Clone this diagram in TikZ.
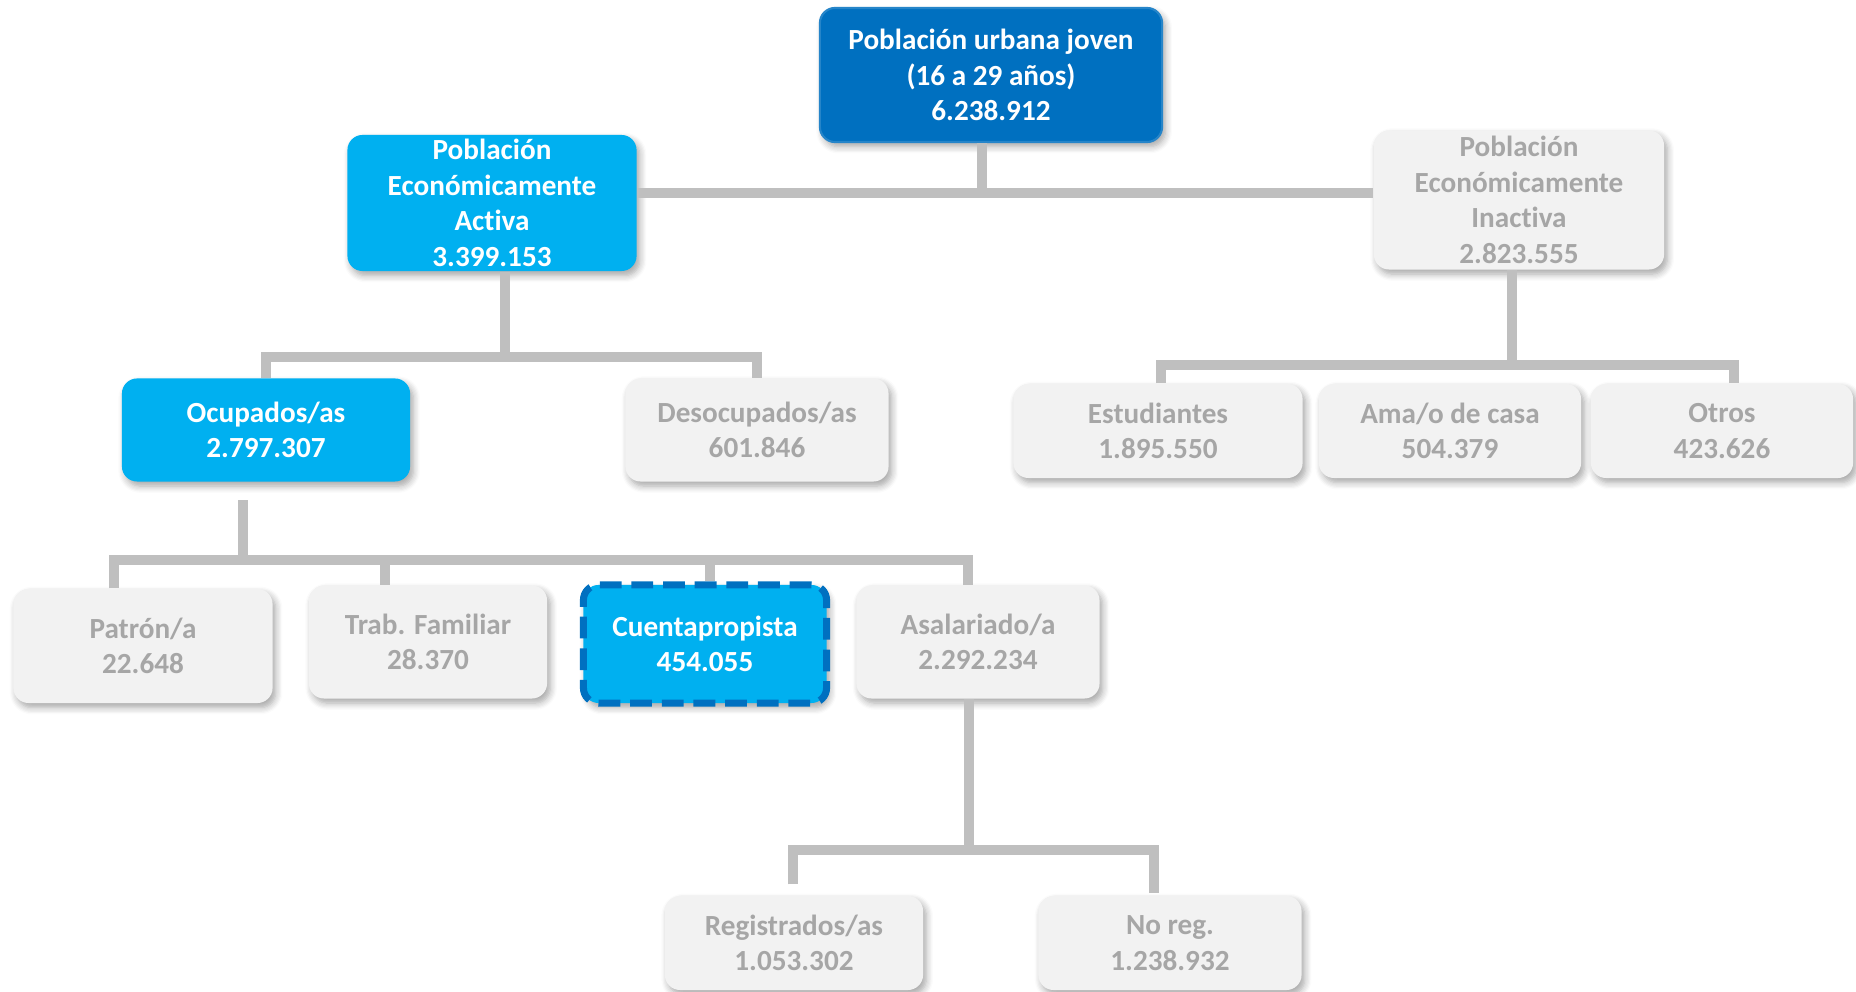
\documentclass[tikz,border=0pt]{standalone}
\usepackage{fontspec}
\setmainfont[Ligatures={NoCommon,NoContextual}, RawFeature={-calt;-dlig}]{Carlito}
\usetikzlibrary{shadows.blur}
\definecolor{azul}{HTML}{0070C0}
\definecolor{celeste}{HTML}{00B0F0}
\definecolor{gris}{HTML}{F2F2F2}
\definecolor{grisletra}{HTML}{A6A6A6}
\definecolor{linea}{HTML}{BFBFBF}
\begin{document}
\begin{tikzpicture}[x=0.01cm, y=-0.01cm,
    every node/.style = {align=center, inner sep=0pt,
      font=\fontsize{8.3}{10.1}\selectfont\bfseries},
    caja/.style = {shape=rectangle, rounded corners=4.3pt,
      blur shadow={shadow xshift=0.9pt, shadow yshift=-1.3pt,
        shadow opacity=35, shadow blur steps=6}},
    raiz/.style = {caja, fill=azul, draw=azul!85!white, line width=0.6pt, text=white},
    activo/.style = {caja, fill=celeste, text=white},
    inactivo/.style = {caja, fill=gris, text=grisletra},
    conn/.style = {draw=linea, line width=2.6pt}]
    \useasboundingbox (0,0) rectangle (1856,992);
    % nivel 0 y 1
    \node[raiz, minimum width=3.42cm, minimum height=1.34cm] (P) at (991,75)
        {Población urbana joven\\(16 a 29 años)\\6.238.912};
    \node[activo, minimum width=2.89cm, minimum height=1.36cm] (PEA) at (492,203)
        {Población\\Económicamente\\Act\kern0pt iva\\3.399.153};
    \node[inactivo, minimum width=2.90cm, minimum height=1.39cm] (PEI) at (1519,200)
        {Población\\Económicamente\\Inact\kern0pt iva\\2.823.555};
    % nivel 2
    \node[activo, minimum width=2.88cm, minimum height=1.03cm] (OC) at (266,430)
        {Ocupados/as\\2.797.307};
    \node[inactivo, minimum width=2.63cm, minimum height=1.03cm] (DES) at (757,430)
        {Desocupados/as\\601.846};
    \node[inactivo, minimum width=2.89cm, minimum height=0.94cm] (EST) at (1158,431)
        {Estudiantes\\1.895.550};
    \node[inactivo, minimum width=2.62cm, minimum height=0.94cm] (AMA) at (1450,431)
        {Ama/o de casa\\504.379};
    \node[inactivo, minimum width=2.62cm, minimum height=0.94cm] (OTR) at (1722,431)
        {Otros\\423.626};
    % nivel 3
    \node[inactivo, minimum width=2.59cm, minimum height=1.14cm] (PAT) at (143,646)
        {Patrón/a\\22.648};
    \node[inactivo, minimum width=2.38cm, minimum height=1.13cm] (TF) at (428,642)
        {Trab. Familiar\\28.370};
    \node[activo, draw=azul, line width=2pt, dash pattern=on 6.2pt off 2.8pt,
        minimum width=2.43cm, minimum height=1.18cm] (CP) at (705,644)
        {Cuentapropista\\454.055};
    \node[inactivo, minimum width=2.43cm, minimum height=1.13cm] (AS) at (978,642)
        {Asalariado/a\\2.292.234};
    % nivel 4
    \node[inactivo, minimum width=2.58cm, minimum height=0.94cm] (REG) at (794,943)
        {Registrados/as\\1.053.302};
    \node[inactivo, minimum width=2.63cm, minimum height=0.94cm] (NR) at (1170,943)
        {No reg.\\1.238.932};
    % conectores
    \coordinate (b1) at (982,193);
    \coordinate (b2) at (505,357);
    \coordinate (b3) at (1512,365);
    \coordinate (b4) at (243,560);
    \coordinate (b5) at (969,850);
    \draw[conn] (P.south -| b1) -- (b1);
    \draw[conn] (PEA.east |- b1) -- (PEI.west |- b1);
    \draw[conn] (PEA.south -| b2) -- (b2);
    \draw[conn] (OC.north) |- (b2) -| (DES.north);
    \draw[conn] (PEI.south -| b3) -- (b3);
    \draw[conn] (EST.north -| 1161,0) |- (b3) -| (OTR.north -| 1734,0);
    \draw[conn, shorten <=0.18cm] (OC.south -| b4) -- (b4);
    \draw[conn] (PAT.north -| 114,0) |- (b4) -| (AS.north -| 968,0);
    \draw[conn] (b4 -| 385,0) -- (TF.north -| 385,0);
    \draw[conn] (b4 -| 710,0) -- (CP.north -| 710,0);
    \draw[conn] (AS.south -| b5) -- (b5);
    \draw[conn, shorten <=0.11cm, shorten >=0.02cm] (REG.north -| 793,0) |- (b5) -| (NR.north -| 1154,0);
\end{tikzpicture}
\end{document}
